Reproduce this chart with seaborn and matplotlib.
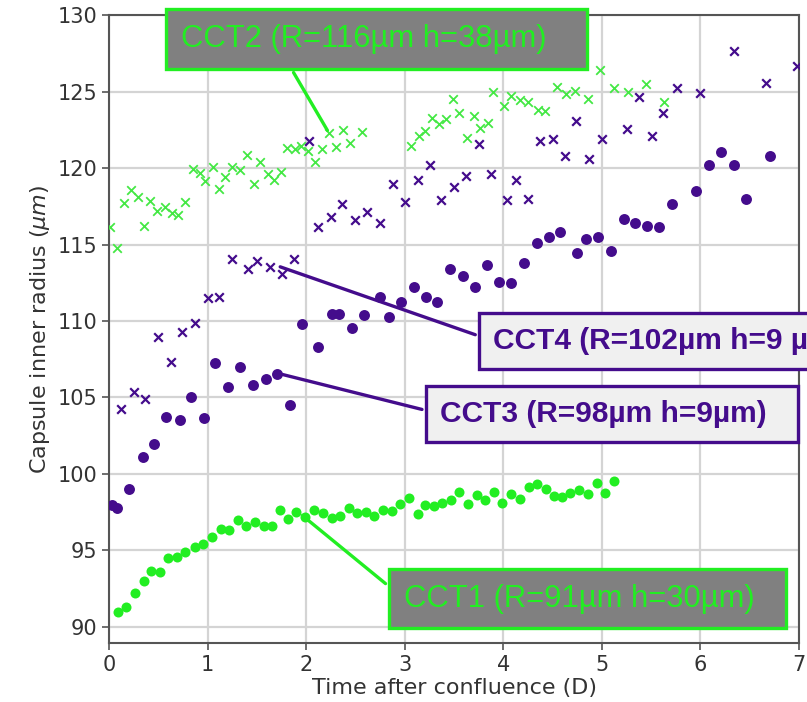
import matplotlib
matplotlib.use("Agg")
import matplotlib.pyplot as plt
import seaborn as sns

# time after confluence (days) and capsule inner radius (um)
cct1_t = [0.09, 0.17, 0.26, 0.35, 0.43, 0.52, 0.60, 0.69, 0.77, 0.87, 0.95, 1.04, 1.14, 1.22, 1.31,
          1.39, 1.48, 1.57, 1.65, 1.73, 1.82, 1.90, 1.99, 2.08, 2.17, 2.26, 2.34, 2.43, 2.52, 2.61,
          2.69, 2.78, 2.87, 2.95, 3.04, 3.13, 3.21, 3.30, 3.38, 3.47, 3.55, 3.64, 3.73, 3.81, 3.91,
          3.99, 4.08, 4.17, 4.26, 4.34, 4.43, 4.51, 4.60, 4.68, 4.77, 4.86, 4.95, 5.03, 5.12]
cct1_r = [90.96, 91.29, 92.24, 93.03, 93.68, 93.57, 94.53, 94.60, 94.88, 95.21, 95.40, 95.90, 96.38, 96.34, 97.00,
          96.62, 96.88, 96.62, 96.62, 97.65, 97.06, 97.50, 97.21, 97.65, 97.43, 97.10, 97.27, 97.76, 97.43, 97.54,
          97.25, 97.65, 97.60, 98.04, 98.41, 97.39, 97.97, 97.93, 98.12, 98.30, 98.84, 98.04, 98.63, 98.30, 98.80,
          98.12, 98.69, 98.37, 99.13, 99.33, 99.02, 98.56, 98.50, 98.77, 98.97, 98.69, 99.43, 98.78, 99.56]

cct2_t = [0.01, 0.08, 0.15, 0.22, 0.29, 0.35, 0.42, 0.49, 0.57, 0.64, 0.70, 0.77, 0.85, 0.92, 0.97,
          1.05, 1.12, 1.18, 1.25, 1.33, 1.40, 1.47, 1.53, 1.61, 1.67, 1.74, 1.81, 1.89, 1.95, 2.02,
          2.09, 2.16, 2.23, 2.30, 2.37, 2.44, 2.57, 3.06, 3.14, 3.21, 3.28, 3.35, 3.42, 3.49, 3.55,
          3.63, 3.70, 3.76, 3.84, 3.90, 4.01, 4.08, 4.17, 4.25, 4.35, 4.42, 4.54, 4.64, 4.73, 4.86,
          4.98, 5.12, 5.27, 5.45, 5.63]
cct2_r = [116.17, 114.75, 117.73, 118.56, 118.13, 116.21, 117.86, 117.21, 117.47, 117.08, 116.93, 117.76, 119.93, 119.65, 119.17,
          120.09, 118.61, 119.43, 120.04, 119.87, 120.85, 118.93, 120.41, 119.61, 119.22, 119.72, 121.33, 121.22, 121.44, 121.13,
          120.41, 121.24, 122.27, 121.39, 122.48, 121.61, 122.33, 121.46, 122.09, 122.42, 123.29, 122.86, 123.18, 124.49, 123.57,
          121.98, 123.42, 122.59, 122.96, 124.95, 124.05, 124.71, 124.44, 124.33, 123.79, 123.73, 125.27, 124.82, 125.05, 124.51,
          126.41, 125.21, 124.99, 125.47, 124.33]

cct3_t = [0.03, 0.08, 0.20, 0.34, 0.46, 0.58, 0.72, 0.83, 0.96, 1.08, 1.21, 1.33, 1.46, 1.59, 1.70,
          1.84, 1.96, 2.12, 2.26, 2.33, 2.46, 2.59, 2.75, 2.84, 2.96, 3.09, 3.22, 3.33, 3.46, 3.59,
          3.71, 3.83, 3.96, 4.08, 4.21, 4.34, 4.46, 4.58, 4.75, 4.84, 4.96, 5.09, 5.22, 5.34, 5.46,
          5.58, 5.71, 5.96, 6.09, 6.21, 6.34, 6.46, 6.71]
cct3_r = [97.97, 97.76, 99.02, 101.13, 101.94, 103.75, 103.53, 105.05, 103.68, 107.27, 105.67, 106.97, 105.82, 106.19, 106.54,
          104.49, 109.78, 108.32, 110.46, 110.46, 109.54, 110.39, 111.59, 110.28, 111.22, 112.24, 111.59, 111.26, 113.38, 112.94,
          112.20, 113.64, 112.53, 112.46, 113.81, 115.12, 115.51, 115.80, 114.46, 115.36, 115.51, 114.58, 116.67, 116.39, 116.21,
          116.12, 117.63, 118.50, 120.22, 121.07, 120.22, 117.95, 120.78]

cct4_t = [0.12, 0.25, 0.37, 0.50, 0.63, 0.74, 0.87, 1.00, 1.12, 1.25, 1.41, 1.50, 1.63, 1.75, 1.88,
          2.03, 2.12, 2.25, 2.36, 2.50, 2.62, 2.75, 2.88, 3.00, 3.13, 3.26, 3.37, 3.50, 3.62, 3.75,
          3.88, 4.04, 4.13, 4.25, 4.37, 4.50, 4.63, 4.74, 4.87, 5.00, 5.25, 5.38, 5.51, 5.62, 5.76,
          6.00, 6.34, 6.67, 6.98]
cct4_r = [104.25, 105.34, 104.90, 108.93, 107.30, 109.26, 109.89, 111.48, 111.59, 114.05, 113.40, 113.92, 113.51, 113.05, 114.05,
          121.78, 116.12, 116.82, 117.63, 116.60, 117.14, 116.39, 118.95, 117.80, 119.22, 120.22, 117.91, 118.78, 119.48, 121.55,
          119.61, 117.91, 119.22, 118.00, 121.76, 121.90, 120.81, 123.09, 120.59, 121.90, 122.53, 124.66, 122.09, 123.57, 125.21,
          124.88, 127.67, 125.58, 126.67]

labels = ["CCT1 (R=91\u00b5m h=30\u00b5m)", "CCT2 (R=116\u00b5m h=38\u00b5m)",
          "CCT3 (R=98\u00b5m h=9\u00b5m)", "CCT4 (R=102\u00b5m h=9 \u00b5m)"]

green = "#22ee22"
green_x = "#44e844"
purple = "#440c8c"

sns.set_style("whitegrid", {
    "axes.edgecolor": "#555555",
    "grid.color": "#d4d4d4",
    "xtick.bottom": True,
    "ytick.left": True,
})
plt.rcParams["font.family"] = ["DejaVu Sans"]

fig = plt.figure(figsize=(8.07, 7.02), dpi=100)
ax = fig.add_axes([0.1351, 0.084, 0.855, 0.8946])

sns.scatterplot(x=cct2_t, y=cct2_r, marker="x", color=green_x, s=38, linewidth=1.3, ax=ax, zorder=3)
sns.scatterplot(x=cct4_t, y=cct4_r, marker="x", color=purple, s=38, linewidth=1.6, ax=ax, zorder=3)
sns.scatterplot(x=cct3_t, y=cct3_r, marker="o", color=purple, s=62, linewidth=0, ax=ax, zorder=3)
sns.scatterplot(x=cct1_t, y=cct1_r, marker="o", color=green, s=52, linewidth=0, ax=ax, zorder=3)

ax.set_xlim(0, 7)
ax.set_ylim(88.95, 130)
ax.set_xticks(range(0, 8))
ax.set_yticks(range(90, 131, 5))
ax.grid(True, linewidth=1.6)
ax.tick_params(axis="both", labelsize=15, length=5, width=1.2, color="#555555", labelcolor="#333333")
for sp in ax.spines.values():
    sp.set_linewidth(1.5)
ax.set_xlabel("Time after confluence (D)", fontsize=16, color="#333333", labelpad=2)
ax.set_ylabel(r"Capsule inner radius ($\mu m$)", fontsize=16, color="#333333", labelpad=4)

box_font = ["Liberation Sans", "DejaVu Sans"]
gbox = dict(boxstyle="square,pad=0.48", fc="#808080", ec=green, lw=2.4)
pbox = dict(boxstyle="square,pad=0.48", fc="#f0f0f0", ec=purple, lw=2.4)

ax.annotate(labels[1] + "   ", xy=(2.23, 122.3), xytext=(0.73, 128.43), ha="left", va="center",
            fontsize=22.3, color=green, family=box_font, bbox=gbox, annotation_clip=False,
            arrowprops=dict(arrowstyle="-", color=green, lw=2.4, relpos=(0.26, 0.0)))
ax.annotate(labels[3], xy=(1.71, 113.6), xytext=(3.9, 108.69), ha="left", va="center",
            fontsize=21.5, color=purple, family=box_font, fontweight="bold", bbox=pbox,
            arrowprops=dict(arrowstyle="-", color=purple, lw=2.4, relpos=(0.0, 0.5)))
ax.annotate(labels[2] + "  ", xy=(1.70, 106.6), xytext=(3.36, 103.92), ha="left", va="center",
            fontsize=21.5, color=purple, family=box_font, fontweight="bold", bbox=pbox,
            arrowprops=dict(arrowstyle="-", color=purple, lw=2.4, relpos=(0.0, 0.5)))
ax.annotate(labels[0] + "  ", xy=(1.94, 97.4), xytext=(2.99, 91.86), ha="left", va="center",
            fontsize=22.3, color=green, family=box_font, bbox=gbox,
            arrowprops=dict(arrowstyle="-", color=green, lw=2.4, relpos=(0.0, 0.5)))

fig.savefig("out.png", dpi=100)
